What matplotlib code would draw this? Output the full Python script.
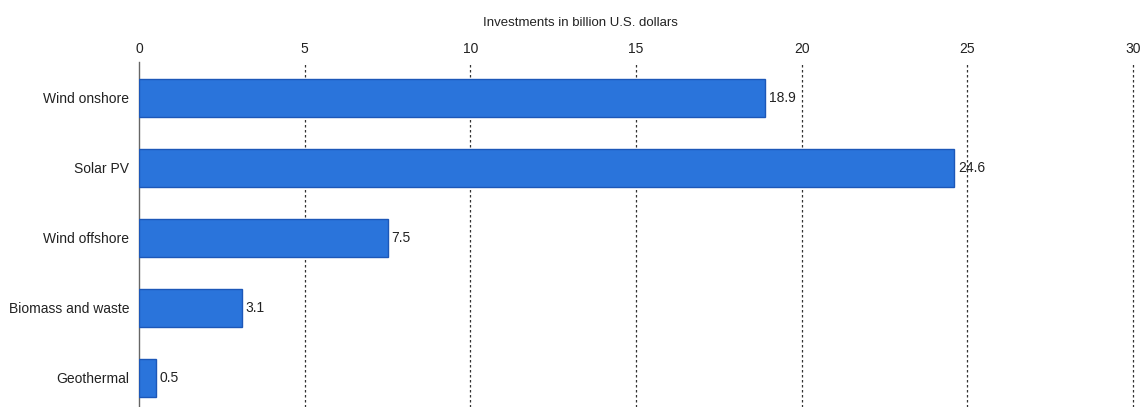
import matplotlib.pyplot as plt

plt.rcParams['font.family'] = ['Liberation Sans', 'DejaVu Sans']

categories = ["Wind onshore", "Solar PV", "Wind offshore", "Biomass and waste", "Geothermal"]
investments = [18.9, 24.6, 7.5, 3.1, 0.5]
x_ticks = [0, 5, 10, 15, 20, 25, 30]

fig = plt.figure(figsize=(11.43, 4.07), dpi=100)
ax = fig.add_axes([0.1216, 0.0, 0.8697, 0.8477])

positions = list(range(len(categories)))
ax.barh(positions, investments, height=0.54, color="#2a74db",
        edgecolor="#1c57b8", linewidth=1.0, zorder=3)

for pos, val in zip(positions, investments):
    ax.text(val + 0.12, pos, f"{val}", va="center", ha="left",
            fontsize=10, color="#222222", zorder=4)

ax.set_xlim(0, 30)
ax.set_ylim(4.42, -0.51)
ax.set_yticks(positions)
ax.set_yticklabels(categories, fontsize=10, color="#222222")
ax.set_xticks(x_ticks)
ax.set_xticklabels([str(t) for t in x_ticks], fontsize=10, color="#222222")

ax.xaxis.tick_top()
ax.xaxis.set_label_position("top")
ax.set_xlabel("Investments in billion U.S. dollars", fontsize=9.5,
              color="#222222")
ax.xaxis.set_label_coords(0.444, 1.105)
ax.tick_params(axis="both", length=0)
ax.tick_params(axis="x", pad=4.5)
ax.tick_params(axis="y", pad=7)

# dotted verticals at every tick except zero, where the solid spine sits
for t in x_ticks[1:]:
    ax.axvline(t, color="#333333", linestyle=(0, (2, 2)), linewidth=0.9,
               zorder=1, clip_on=False)

for side in ["top", "right", "bottom"]:
    ax.spines[side].set_visible(False)
ax.spines["left"].set_color("#666666")
ax.spines["left"].set_linewidth(1.0)

fig.savefig("out.png", dpi=100)
